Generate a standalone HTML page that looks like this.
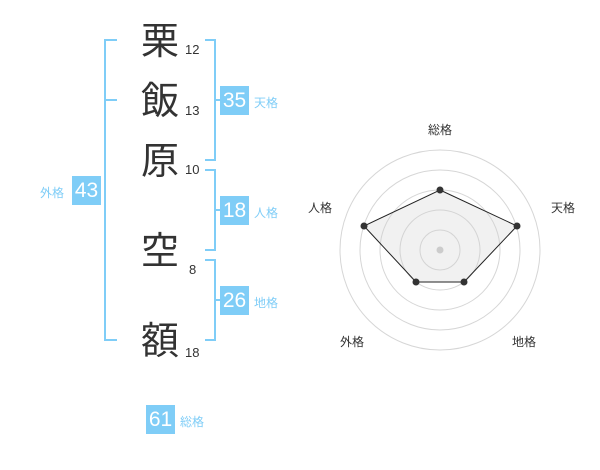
<!DOCTYPE html>
<html><head><meta charset="utf-8"><style>
body{margin:0;width:600px;height:470px;background:#fff;position:relative;overflow:hidden;font-family:"Liberation Sans","Noto Sans CJK JP",sans-serif}
.c{position:absolute;font-size:38px;color:#333;width:40px;text-align:center;line-height:40px}
.n{position:absolute;font-size:13px;color:#333}
.b{position:absolute;width:29px;height:29px;background:#7fcdf7;color:#fff;font-size:21px;line-height:29px;text-align:center}
.l{position:absolute;font-size:12px;color:#7fcdf7}
</style></head><body>
<svg width="600" height="470" style="position:absolute;left:0;top:0">
<g stroke="#7fcdf7" stroke-width="2" fill="none">
<path d="M117 40H105V340H117M105 100H117"/>
<path d="M205 40H215V160H205M215 100H220"/>
<path d="M205 170H215V250H205M215 210H220"/>
<path d="M205 260H215V340H205M215 300H220"/>
</g>
<g stroke="#d6d6d6" fill="none">
<circle cx="440" cy="250" r="20"/><circle cx="440" cy="250" r="40"/><circle cx="440" cy="250" r="60"/><circle cx="440" cy="250" r="80"/><circle cx="440" cy="250" r="100"/>
</g>
<polygon points="440,190 517,226 464,282 416,282 364,226" fill="rgba(210,210,210,0.3)" stroke="#222" stroke-width="1"/>
<circle cx="440" cy="250" r="3.5" fill="#ccc"/>
<g fill="#333"><circle cx="440" cy="190" r="3.5"/><circle cx="517" cy="226" r="3.5"/><circle cx="464" cy="282" r="3.5"/><circle cx="416" cy="282" r="3.5"/><circle cx="364" cy="226" r="3.5"/></g>
<g font-size="12" fill="#333" font-family="Liberation Sans,Noto Sans CJK JP,sans-serif" text-anchor="middle">
<text x="440" y="134">総格</text><text x="563" y="212">天格</text><text x="320" y="212">人格</text><text x="352" y="346">外格</text><text x="524" y="346">地格</text>
</g>
</svg>
<div class="c" style="left:140px;top:22px">栗</div>
<div class="c" style="left:140px;top:82px">飯</div>
<div class="c" style="left:140px;top:142px">原</div>
<div class="c" style="left:140px;top:232px">空</div>
<div class="c" style="left:140px;top:322px">額</div>
<div class="n" style="left:185px;top:42px">12</div>
<div class="n" style="left:185px;top:103px">13</div>
<div class="n" style="left:185px;top:162px">10</div>
<div class="n" style="left:189px;top:262px">8</div>
<div class="n" style="left:185px;top:345px">18</div>
<div class="b" style="left:220px;top:86px">35</div><div class="l" style="left:254px;top:94px">天格</div>
<div class="b" style="left:220px;top:196px">18</div><div class="l" style="left:254px;top:204px">人格</div>
<div class="b" style="left:220px;top:286px">26</div><div class="l" style="left:254px;top:294px">地格</div>
<div class="b" style="left:72px;top:176px">43</div><div class="l" style="left:40px;top:184px">外格</div>
<div class="b" style="left:146px;top:405px">61</div><div class="l" style="left:180px;top:413px">総格</div>
</body></html>
